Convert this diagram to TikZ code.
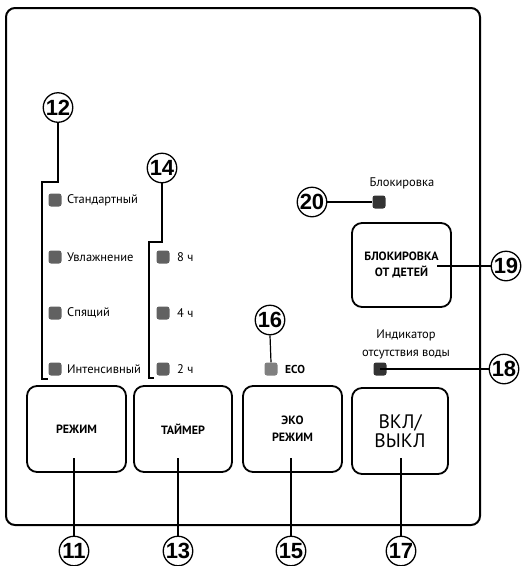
\documentclass[tikz,border=0pt]{standalone}
\usepackage{fontspec}
\setmainfont{PT Sans}
\newfontfamily\numfont{Liberation Sans}
\begin{document}
\begin{tikzpicture}[x=1pt,y=-1pt,
  num/.style={circle,draw,line width=1.3,minimum size=29.5,inner sep=0,font=\numfont\bfseries\fontsize{22}{22}\selectfont},
  btn/.style={draw,line width=1.8,rounded corners=10,inner sep=0,align=center},
  ledg/.style={rounded corners=2.5,fill=#1,minimum size=13,inner sep=0},
  lbl/.style={anchor=west,font=\fontsize{12.5}{14}\selectfont,inner sep=0},
  wire/.style={line width=1.2}]
\useasboundingbox (0,0) rectangle (524,566);
\draw[line width=2,rounded corners=9] (6,8) rectangle (480,525);
% buttons
\node[btn,minimum width=99,minimum height=86,font=\bfseries\fontsize{12}{14}\selectfont] (b11) at (76.5,429) {РЕЖИМ};
\node[btn,minimum width=98,minimum height=86,font=\bfseries\fontsize{12}{14}\selectfont] (b13) at (183,429) {ТАЙМЕР};
\node[btn,minimum width=99,minimum height=86,font=\bfseries\fontsize{12}{17}\selectfont] (b15) at (292.5,429) {ЭКО\\РЕЖИМ};
\node[btn,minimum width=96,minimum height=86,font=\fontsize{19.5}{19}\selectfont] (b17) at (400,431) {ВКЛ/\\ВЫКЛ};
\node[btn,minimum width=99,minimum height=84,font=\bfseries\fontsize{12}{16}\selectfont] (b19) at (401.5,265) {БЛОКИРОВКА\\ОТ ДЕТЕЙ};
% number circles
\node[num] (c12) at (58,107.5) {12};
\node[num] (c14) at (162,168) {14};
\node[num] (c20) at (312,202) {20};
\node[num] (c19) at (506,266) {19};
\node[num] (c16) at (270,320) {16};
\node[num] (c18) at (504,369) {18};
\node[num] (c11) at (74,551) {11};
\node[num] (c13) at (178,551) {13};
\node[num] (c15) at (291,551) {15};
\node[num] (c17) at (401,551) {17};
% LEDs mode
\node[ledg=black!62] (l1) at (55,200) {};
\node[ledg=black!62] (l2) at (55,257) {};
\node[ledg=black!62] (l3) at (55,313) {};
\node[ledg=black!62] (l4) at (55,369) {};
\node[lbl] (t1) at (67,200) {Стандартный};
\node[lbl] (t2) at (67,257) {Увлажнение};
\node[lbl] (t3) at (67,313) {Спящий};
\node[lbl] (t4) at (67,369) {Интенсивный};
% LEDs timer
\node[ledg=black!62] (m1) at (163,257) {};
\node[ledg=black!62] (m2) at (163,313) {};
\node[ledg=black!62] (m3) at (163,369) {};
\node[lbl] (u1) at (177,257) {8 ч};
\node[lbl] (u2) at (177,313) {4 ч};
\node[lbl] (u3) at (177,369) {2 ч};
% other LEDs
\node[ledg=black!50] (l16) at (271,369) {};
\node[lbl,font=\bfseries\fontsize{11.5}{12}\selectfont] (eco) at (285,369) {ECO};
\node[ledg=black!80] (l20) at (379,202) {};
\node[font=\fontsize{12.5}{14}\selectfont,inner sep=0] (t20) at (402,183) {Блокировка};
\node[ledg=black!80] (l18) at (380,369) {};
\node[font=\fontsize{12.5}{18}\selectfont,inner sep=0,align=center] (t18) at (406,344) {Индикатор\\отсутствия воды};
% brackets
\coordinate (k1) at (58,182); \coordinate (k2) at (42,182);
\coordinate (k3) at (42,379); \coordinate (k4) at (48,379);
\draw[wire] (c12.south) -- (k1) -- (k2) -- (k3) -- (k4);
\coordinate (j1) at (162,242); \coordinate (j2) at (149,242);
\coordinate (j3) at (149,378); \coordinate (j4) at (154,378);
\draw[wire] (c14.south) -- (j1) -- (j2) -- (j3) -- (j4);
% connectors
\draw[wire] (c20.east) -- (l20.west);
\coordinate (s19) at (437,266);
\draw[wire] (s19) -- (c19.west);
\draw[wire] (c16.south) -- (l16.north);
\draw[wire] (l18.center) -- (c18.west);
\coordinate (s11) at (74,458); \draw[wire] (s11) -- (c11.north);
\coordinate (s13) at (178,458); \draw[wire] (s13) -- (c13.north);
\coordinate (s15) at (291,458); \draw[wire] (s15) -- (c15.north);
\coordinate (s17) at (401,458); \draw[wire] (s17) -- (c17.north);
\end{tikzpicture}
\end{document}
